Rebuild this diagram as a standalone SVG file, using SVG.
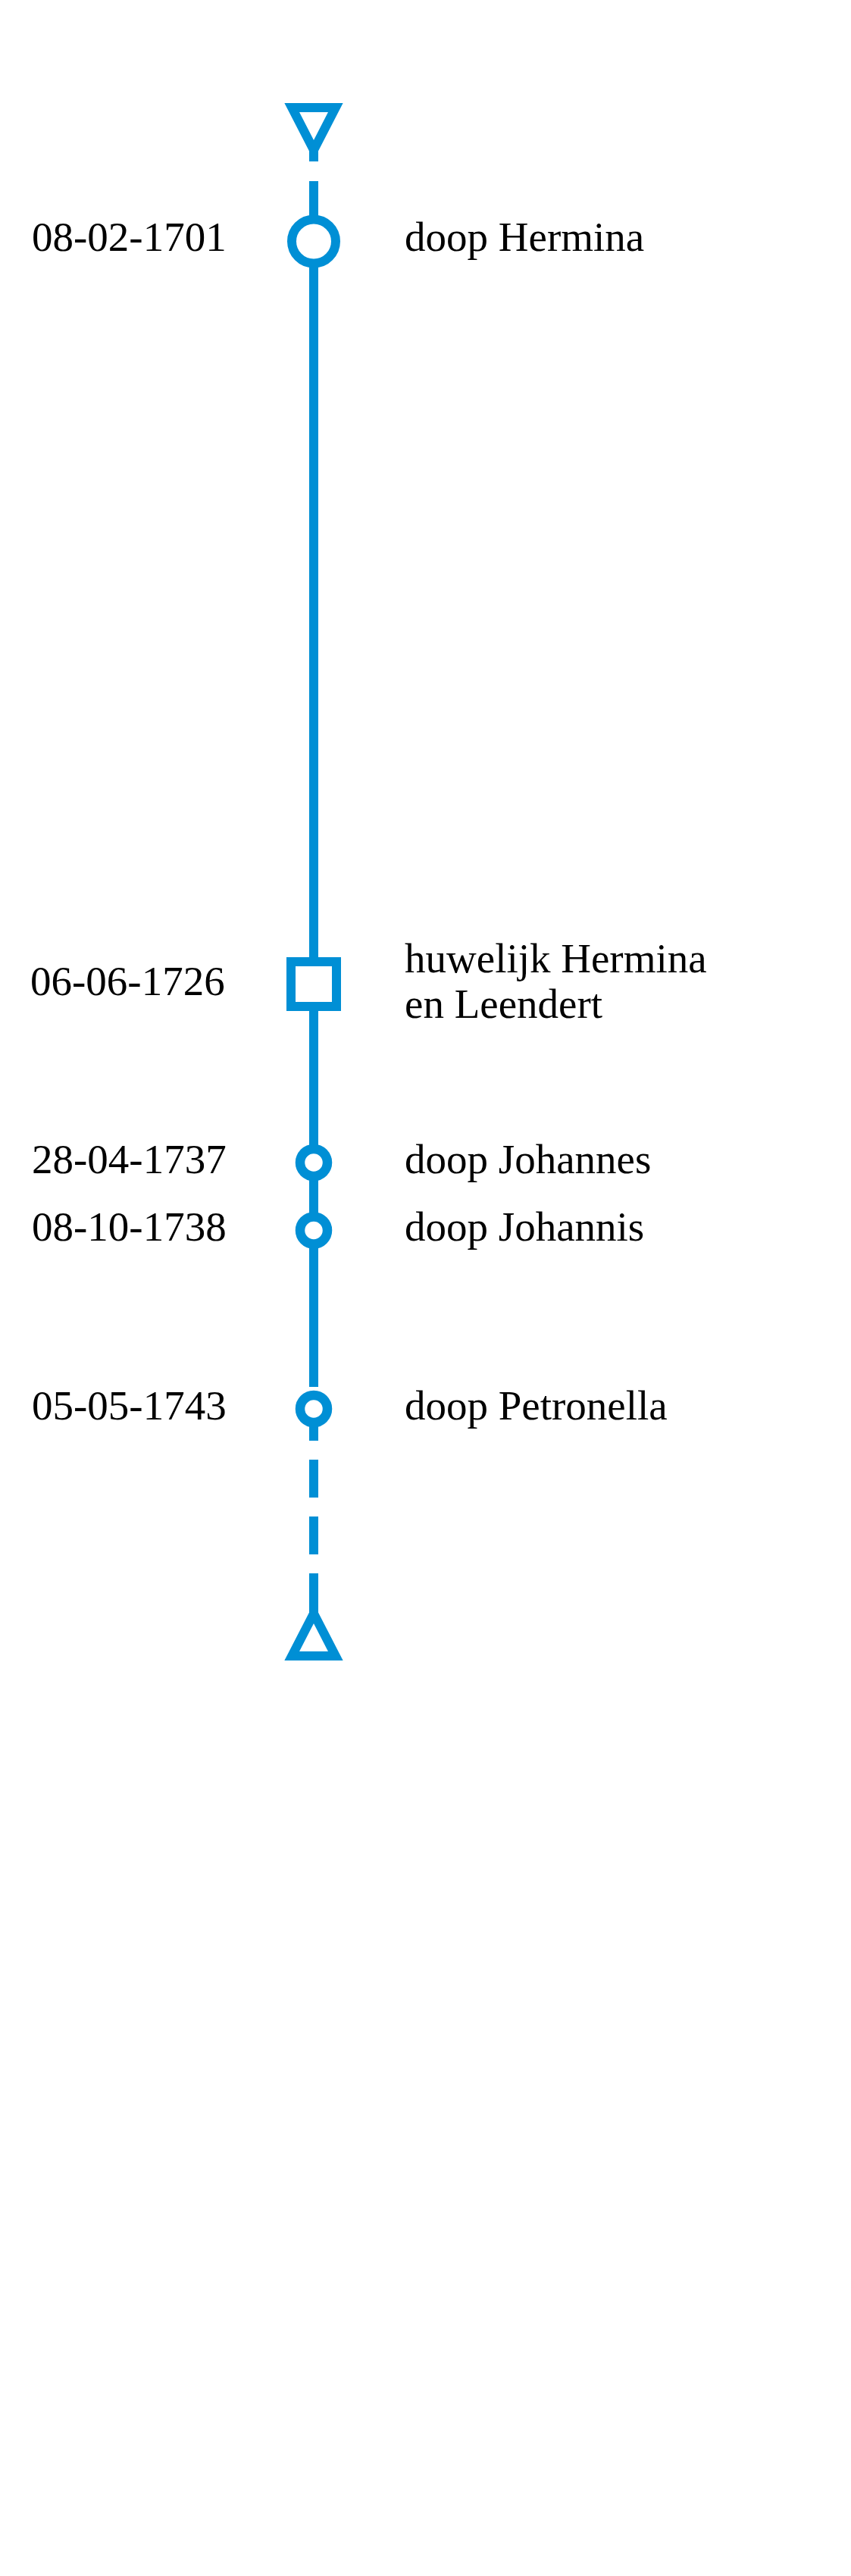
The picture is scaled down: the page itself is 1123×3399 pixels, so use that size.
<svg xmlns="http://www.w3.org/2000/svg" width="1123" height="3399" viewBox="0 0 1123 3399">
<style>
.ln{stroke:#008fd5;stroke-width:12;fill:none}
.nd{stroke:#008fd5;stroke-width:12;fill:#fff}
.sm{stroke:#008fd5;stroke-width:12.5;fill:#fff}
.tx{font-family:"Liberation Serif","Times New Roman",serif;font-size:55px;fill:#000}
</style>
<rect width="1123" height="3399" fill="#fff"/>
<g id="connectors">
<line class="ln" x1="414" y1="196" x2="414" y2="213"/>
<line class="ln" x1="414" y1="239" x2="414" y2="1830"/>
<line class="ln" x1="414" y1="1870" x2="414" y2="1901"/>
<line class="ln" x1="414" y1="1926" x2="414" y2="1976"/>
<line class="ln" x1="414" y1="2001" x2="414" y2="2051"/>
<line class="ln" x1="414" y1="2076" x2="414" y2="2132"/>
</g>
<g id="start">
<polygon class="nd" points="385.2,142 442.8,142 414,198" stroke-linejoin="miter" stroke-miterlimit="10"/>
</g>
<g id="end">
<polygon class="nd" points="385.2,2185 442.8,2185 414,2129" stroke-linejoin="miter" stroke-miterlimit="10"/>
</g>
<g id="n1">
<circle class="nd" cx="414" cy="318.5" r="29"/>
<text class="tx" x="42" y="331">08-02-1701</text>
<text class="tx" x="534" y="331">doop Hermina</text>
</g>
<g id="n2">
<rect class="nd" x="384" y="1269" width="60" height="59"/>
<text class="tx" x="40" y="1313">06-06-1726</text>
<text class="tx" x="534" y="1283">huwelijk Hermina</text>
<text class="tx" x="534" y="1343">en Leendert</text>
</g>
<g id="n3">
<circle class="sm" cx="414" cy="1534" r="18"/>
<text class="tx" x="42" y="1548">28-04-1737</text>
<text class="tx" x="534" y="1548">doop Johannes</text>
</g>
<g id="n4">
<circle class="sm" cx="414" cy="1623.5" r="18"/>
<text class="tx" x="42" y="1637">08-10-1738</text>
<text class="tx" x="534" y="1637">doop Johannis</text>
</g>
<g id="n5">
<circle class="sm" cx="414" cy="1859" r="18"/>
<text class="tx" x="42" y="1873">05-05-1743</text>
<text class="tx" x="534" y="1873">doop Petronella</text>
</g>
</svg>
